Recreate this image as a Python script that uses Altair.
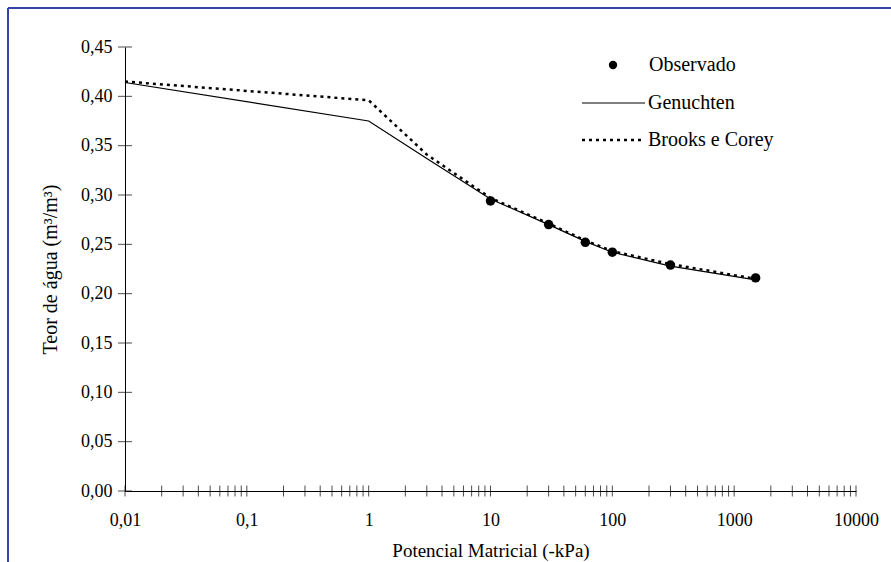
import altair as alt
import pandas as pd

# Fitted retention curves (theta vs matric potential)
pressure_kpa = [0.01, 1, 3, 10, 30, 60, 100, 300, 1500]
genuchten = [0.414, 0.375, 0.337, 0.296, 0.270, 0.253, 0.242, 0.228, 0.214]
brooks_corey = [0.415, 0.396, 0.341, 0.297, 0.271, 0.254, 0.243, 0.230, 0.215]

# Observed water content
obs_kpa = [10, 30, 60, 100, 300, 1500]
obs_theta = [0.294, 0.270, 0.252, 0.242, 0.229, 0.216]

# Axis ticks
x_labels = [0.01, 0.1, 1, 10, 100, 1000, 10000]
y_labels = [0.00, 0.05, 0.10, 0.15, 0.20, 0.25, 0.30, 0.35, 0.40, 0.45]
x_minor = [m * d for d in [0.01, 0.1, 1, 10, 100, 1000] for m in range(2, 10)]

FONT = "Liberation Serif"
W, H = 731, 444
PAD_L, PAD_T = 125, 47

curves = pd.DataFrame({
    "kpa": pressure_kpa * 2,
    "theta": genuchten + brooks_corey,
    "modelo": ["Genuchten"] * len(pressure_kpa) + ["Brooks e Corey"] * len(pressure_kpa),
})
obs = pd.DataFrame({"kpa": obs_kpa, "theta": obs_theta})

xscale = alt.Scale(type="log", domain=[0.01, 10000], nice=False)
yscale = alt.Scale(domain=[0, 0.45], nice=False, zero=False)

x_axis = alt.Axis(
    values=x_labels, labelExpr="replace(toString(datum.value), '.', ',')",
    ticks=False, grid=False, domainColor="black", domainWidth=1,
    labelFont=FONT, labelFontSize=18, labelColor="black", labelPadding=20,
    labelFlush=False, labelOverlap=False,
    title="Potencial Matricial (-kPa)", titleFont=FONT, titleFontSize=19,
    titleFontWeight="normal", titleColor="black", titleX=W / 2, titleY=59,
    titleBaseline="middle", titleAlign="center",
)
y_axis = alt.Axis(
    values=y_labels, format=".2f", labelExpr="replace(datum.label, '.', ',')",
    ticks=False, grid=False, domainColor="black", domainWidth=1,
    labelFont=FONT, labelFontSize=18, labelColor="black", labelPadding=13,
    title="Teor de água (m³/m³)", titleFont=FONT, titleFontSize=20,
    titleFontWeight="normal", titleColor="black", titleX=-75, titleY=H / 2,
    titleAngle=-90, titleBaseline="middle", titleAlign="center",
)

X = alt.X("kpa:Q", scale=xscale, axis=x_axis)
Y = alt.Y("theta:Q", scale=yscale, axis=y_axis)

bc_line = alt.Chart(curves).transform_filter(
    alt.datum.modelo == "Brooks e Corey"
).mark_line(color="black", strokeWidth=2.5, strokeDash=[3, 4]).encode(x=X, y=Y)

vg_line = alt.Chart(curves).transform_filter(
    alt.datum.modelo == "Genuchten"
).mark_line(color="black", strokeWidth=1.2).encode(x=X, y=Y)

points = alt.Chart(obs).mark_circle(color="black", opacity=1, size=90).encode(x=X, y=Y)

# Tick marks crossing the axis lines
xt = pd.DataFrame({"kpa": x_labels + x_minor, "theta": 0.0})
x_ticks = alt.Chart(xt).mark_tick(color="black", orient="vertical", size=11, thickness=1).encode(x=X, y=Y)
yt = pd.DataFrame({"kpa": 0.01, "theta": y_labels})
y_ticks = alt.Chart(yt).mark_tick(color="black", orient="horizontal", size=14, thickness=1).encode(x=X, y=Y)

# Legend
one = pd.DataFrame({"k": [0]})
leg_dot = alt.Chart(one).mark_circle(color="black", opacity=1, size=70).encode(
    x=alt.value(488), y=alt.value(18))
leg_solid = alt.Chart(one).mark_rule(color="black", strokeWidth=1.2).encode(
    x=alt.value(457), x2=alt.value(520), y=alt.value(56))
leg_dash = alt.Chart(one).mark_rule(color="black", strokeWidth=2.5, strokeDash=[3, 4]).encode(
    x=alt.value(457), x2=alt.value(520), y=alt.value(93))
leg_text = [
    alt.Chart(one).mark_text(font=FONT, fontSize=20, align="left", baseline="middle",
                             color="black").encode(x=alt.value(tx), y=alt.value(ty), text=alt.value(t))
    for t, tx, ty in [("Observado", 524, 18), ("Genuchten", 523, 56), ("Brooks e Corey", 523, 93)]
]

# Outer frame lines (top and left)
frame_top = alt.Chart(one).mark_rule(color="#3343a8", strokeWidth=2).encode(
    x=alt.value(8 - PAD_L), x2=alt.value(891 - PAD_L), y=alt.value(8 - PAD_T))
frame_left = alt.Chart(one).mark_rule(color="#3343a8", strokeWidth=2).encode(
    x=alt.value(8 - PAD_L), y=alt.value(8 - PAD_T), y2=alt.value(562 - PAD_T))

chart = alt.layer(
    bc_line, vg_line, points, x_ticks, y_ticks,
    leg_dot, leg_solid, leg_dash, *leg_text, frame_top, frame_left,
).properties(
    width=W, height=H, autosize="none",
    padding={"left": PAD_L, "top": PAD_T, "right": 891 - PAD_L - W, "bottom": 562 - PAD_T - H},
    background="white",
).configure_view(stroke=None)

chart.save("out.html", embed_options={"renderer": "svg", "actions": False})
